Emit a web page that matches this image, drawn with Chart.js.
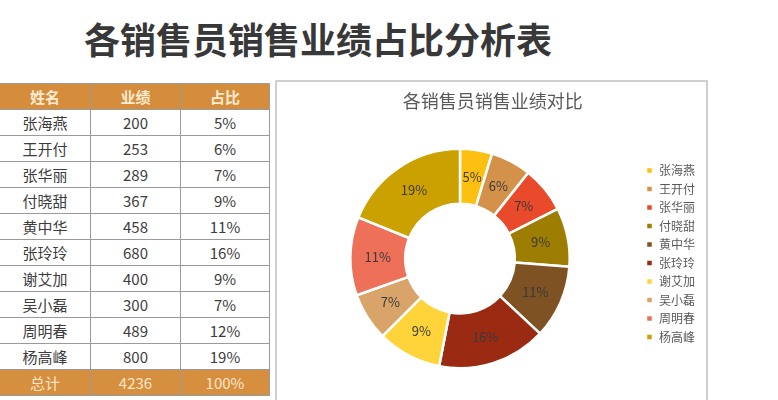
<!DOCTYPE html>
<html><head><meta charset="utf-8">
<script src="https://cdn.jsdelivr.net/npm/chart.js@4.4.1/dist/chart.umd.min.js"></script>
<style>
html,body{margin:0;padding:0;background:#fff;}
body{width:778px;height:400px;overflow:hidden;position:relative;font-family:"Noto Sans CJK SC","Noto Sans",sans-serif;}
#title{position:absolute;left:0;top:20px;width:636px;text-align:center;font-size:36px;line-height:36px;font-weight:700;color:#383838;white-space:nowrap;}
#tbl{position:absolute;left:-1px;top:83px;border-collapse:collapse;table-layout:fixed;}
#tbl td{border:1px solid #9a9a9a;text-align:center;padding:0;height:25px;font-size:15px;color:#3c3c3c;line-height:25px;white-space:nowrap;}
#tbl tr.head td{background:#D58D3C;color:#FDEBD3;font-weight:700;}
#tbl tr.total td{background:#D58F3F;color:#FCE6C8;}
#box{position:absolute;left:275px;top:80px;width:433px;height:340px;border:2px solid #cfcfcf;border-bottom:none;box-sizing:border-box;}
#c{position:absolute;left:277px;top:82px;}
</style>
</head><body>
<div id="title">各销售员销售业绩占比分析表</div>
<table id="tbl"><colgroup><col style="width:91px"><col style="width:90px"><col style="width:89px"></colgroup><tbody id="tb"></tbody></table>
<div id="box"></div>
<canvas id="c" width="428" height="318"></canvas>
<script>
const categories = ['张海燕','王开付','张华丽','付晓甜','黄中华','张玲玲','谢艾加','吴小磊','周明春','杨高峰'];
const sales = [200,253,289,367,458,680,400,300,489,800];
const tableShares = ['5%','6%','7%','9%','11%','16%','9%','7%','12%','19%'];
const chartShares = ['5%','6%','7%','9%','11%','16%','9%','7%','11%','19%'];
const tableHeaders = ['姓名','业绩','占比'];
const totalRow = ['总计','4236','100%'];
const chartTitle = '各销售员销售业绩对比';

const sliceColors = ['#FDC010','#D4914A','#E84A2B','#9E7E02','#7E5222','#9A2A12','#FFD43B','#D8A46A','#EE7058','#CBA100'];

// build table
const tb = document.getElementById('tb');
function addRow(cells, cls){
  const tr = document.createElement('tr');
  if(cls) tr.className = cls;
  cells.forEach(v=>{const td=document.createElement('td');td.textContent=v;tr.appendChild(td);});
  tb.appendChild(tr);
}
addRow(tableHeaders,'head');
categories.forEach((n,i)=>addRow([n,String(sales[i]),tableShares[i]]));
addRow(totalRow,'total');

const FONT = '"Noto Sans CJK SC","Noto Sans",sans-serif';
const pctLabelPlugin = {
  id:'pctLabels',
  afterDatasetsDraw(chart){
    const ctx = chart.ctx;
    const meta = chart.getDatasetMeta(0);
    ctx.save();
    ctx.font = '13px ' + FONT;
    ctx.fillStyle = '#3a3a3a';
    ctx.textAlign = 'center';
    ctx.textBaseline = 'middle';
    meta.data.forEach((arc,i)=>{
      const p = arc.tooltipPosition();
      ctx.fillText(chartShares[i], p.x, p.y);
    });
    ctx.restore();
  }
};

new Chart(document.getElementById('c'),{
  type:'doughnut',
  data:{labels:categories,datasets:[{data:sales,backgroundColor:sliceColors,borderColor:'#ffffff',borderWidth:2.5}]},
  options:{
    responsive:false,
    animation:false,
    cutout:'50%',
    layout:{padding:{left:3.5,right:0,top:0,bottom:30.5}},
    plugins:{
      title:{display:true,text:chartTitle,color:'#595959',font:{family:FONT,size:18,weight:'normal'},padding:{top:8,bottom:36}},
      legend:{position:'right',
        title:{display:true,text:'',font:{family:FONT,size:12},padding:{top:20.8,bottom:20.8}},
        labels:{boxWidth:7,boxHeight:7,padding:6.5,color:'#595959',font:{family:FONT,size:12}}},
      tooltip:{enabled:false}
    }
  },
  plugins:[pctLabelPlugin]
});
</script>
</body></html>
